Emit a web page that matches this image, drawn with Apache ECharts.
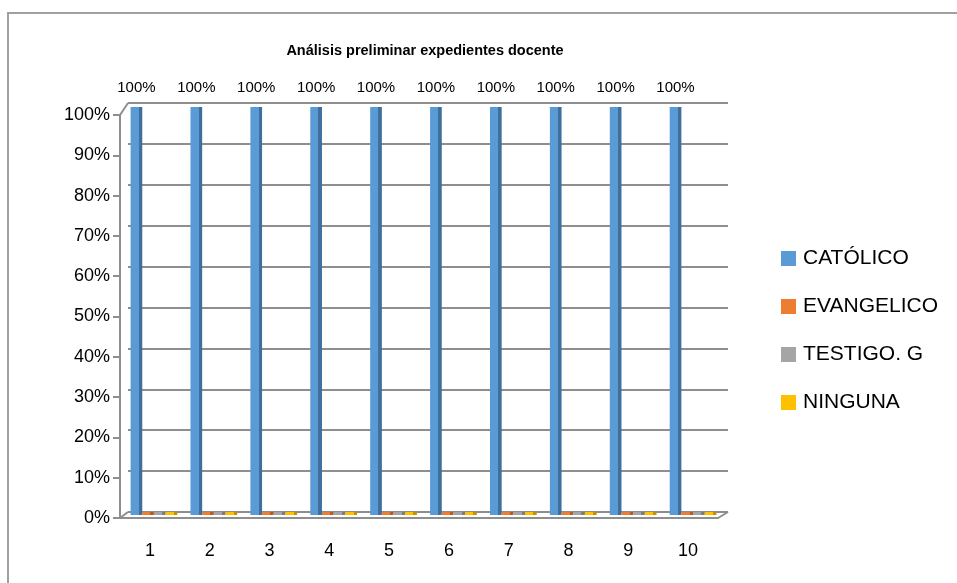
<!DOCTYPE html>
<html>
<head>
<meta charset="utf-8">
<script src="https://cdn.jsdelivr.net/npm/echarts@6/dist/echarts.min.js"></script>
<style>
html, body { margin: 0; padding: 0; background: #fff; }
#chart { width: 957px; height: 583px; }
</style>
</head>
<body>
<div id="chart"></div>
<script>
// datos del grafico
const categories = ['1', '2', '3', '4', '5', '6', '7', '8', '9', '10'];
const seriesNames = ['CATÓLICO', 'EVANGELICO', 'TESTIGO. G', 'NINGUNA'];
const catolico = [1, 1, 1, 1, 1, 1, 1, 1, 1, 1];
const evangelico = [0, 0, 0, 0, 0, 0, 0, 0, 0, 0];
const testigo = [0, 0, 0, 0, 0, 0, 0, 0, 0, 0];
const ninguna = [0, 0, 0, 0, 0, 0, 0, 0, 0, 0];
const yTicks = { min: 0, max: 1, interval: 0.1 };

const font = 'Liberation Sans';
const gridColor = '#8e8e8e';

// cara frontal + lateral oscura para simular 3D
function face(light, dark) {
	return {
		type: 'linear', x: 0, y: 0, x2: 1, y2: 0,
		colorStops: [
			{ offset: 0, color: light },
			{ offset: 0.7, color: light },
			{ offset: 0.7, color: dark },
			{ offset: 1, color: dark }
		]
	};
}

const colors = ['#5b9bd5', '#ed7d31', '#a5a5a5', '#ffc000'];
const darks = ['#3f6f9c', '#b55d22', '#7c7c7c', '#c29200'];
const values = [catolico, evangelico, testigo, ninguna];

let myChart = echarts.init(document.getElementById('chart'));
myChart.setOption({
	animation: false,
	color: colors,
	title: {
		text: 'Análisis preliminar expedientes docente',
		left: 420, top: 38, textAlign: 'center',
		textStyle: { fontFamily: font, fontSize: 14.5, fontWeight: 'bold', color: '#000' }
	},
	legend: {
		orient: 'vertical',
		left: 781, top: 248, padding: 0,
		itemWidth: 15, itemHeight: 15, itemGap: 27,
		icon: 'rect',
		data: seriesNames.map((n, i) => ({ name: n, itemStyle: { color: colors[i] } })),
		textStyle: { fontFamily: font, fontSize: 21, color: '#000', padding: [0, 0, 0, 2] }
	},
	grid: [
		// pared del fondo (lineas de division)
		{ left: 128, top: 103, width: 600, height: 409 },
		// barras
		{ left: 124, top: 107, width: 599, height: 408 },
		// plano frontal (etiquetas de ejes)
		{ left: 120, top: 115, width: 598, height: 403 }
	],
	xAxis: [
		{ gridIndex: 0, type: 'category', data: categories, show: false },
		{ gridIndex: 1, type: 'category', data: categories, show: false },
		{
			gridIndex: 2, type: 'category', data: categories,
			axisLine: { lineStyle: { color: gridColor, width: 2 } },
			axisTick: { length: 7, lineStyle: { color: gridColor, width: 2 } },
			axisLabel: { margin: 24, fontFamily: font, fontSize: 18, color: '#000' }
		}
	],
	yAxis: [
		{
			gridIndex: 0, type: 'value', min: yTicks.min, max: yTicks.max, interval: yTicks.interval,
			axisLine: { show: false }, axisTick: { show: false }, axisLabel: { show: false },
			splitLine: { lineStyle: { color: gridColor, width: 2 } }
		},
		{ gridIndex: 1, type: 'value', min: yTicks.min, max: yTicks.max, show: false, splitLine: { show: false } },
		{
			gridIndex: 2, type: 'value', min: yTicks.min, max: yTicks.max, interval: yTicks.interval,
			axisLine: { show: true, lineStyle: { color: gridColor, width: 2 } },
			axisTick: { show: true, length: 7, lineStyle: { color: gridColor, width: 2 } },
			splitLine: { show: false },
			axisLabel: {
				margin: 10, fontFamily: font, fontSize: 18, color: '#000',
				formatter: v => Math.round(v * 100) + '%'
			}
		}
	],
	graphic: [
		{ type: 'rect', shape: { x: 8, y: 13, width: 1200, height: 1200 }, style: { fill: 'none', stroke: '#a0a0a0', lineWidth: 2 }, z: -1 },
		{ type: 'polyline', shape: { points: [[120, 518], [128, 512]] }, style: { stroke: gridColor, lineWidth: 2 } },
		{ type: 'polyline', shape: { points: [[718, 518], [728, 512]] }, style: { stroke: gridColor, lineWidth: 2 } },
		{ type: 'polyline', shape: { points: [[120, 115], [128, 103]] }, style: { stroke: gridColor, lineWidth: 2 } }
	],
	series: seriesNames.map((name, i) => ({
		name: name,
		type: 'bar',
		xAxisIndex: 1,
		yAxisIndex: 1,
		data: values[i],
		barGap: 0,
		barCategoryGap: '22%',
		barMinHeight: 3,
		itemStyle: { color: face(colors[i], darks[i]) },
		label: {
			show: i === 0,
			position: 'top',
			distance: 12,
			fontFamily: font, fontSize: 15, color: '#000',
			formatter: p => Math.round(p.value * 100) + '%'
		}
	}))
});
</script>
</body>
</html>
